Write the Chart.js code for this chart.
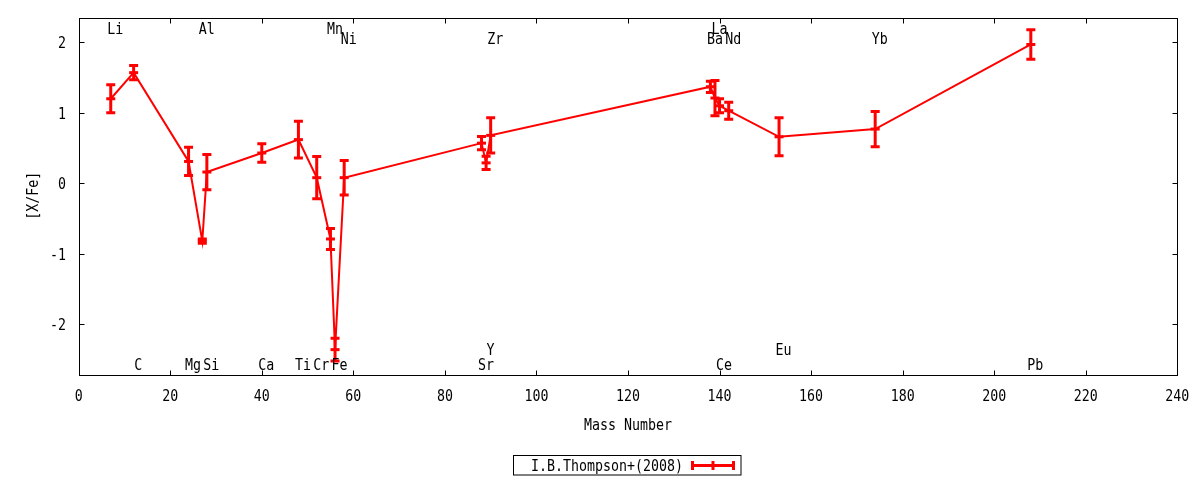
<!DOCTYPE html>
<html>
<head>
<meta charset="utf-8">
<script src="https://cdn.jsdelivr.net/npm/chart.js@4.4.1/dist/chart.umd.min.js"></script>
<style>
  html, body { margin: 0; padding: 0; background: #ffffff; }
  canvas { display: block; }
</style>
</head>
<body>
<canvas id="c" width="1200" height="480"></canvas>
<script>
// ---- data ----
const elements = ['Li','C','Mg','Al','Si','Ca','Ti','Cr','Mn','Fe','Ni','Sr','Y','Zr','Ba','La','Ce','Nd','Eu','Yb','Pb'];
const massNumber = [7,12,24,27,28,40,48,52,55,56,58,88,89,90,138,139,140,142,153,174,208];
const xFe = [1.20,1.57,0.31,-0.82,0.16,0.43,0.62,0.08,-0.79,-2.36,0.08,0.57,0.29,0.68,1.37,1.21,1.10,1.03,0.66,0.77,1.97];
const xFeErr = [0.20,0.10,0.20,0.03,0.25,0.13,0.26,0.30,0.15,0.16,0.245,0.095,0.095,0.25,0.08,0.25,0.10,0.12,0.27,0.25,0.21];
const labelY = [2.2,-2.56,-2.56,2.2,-2.56,-2.56,-2.56,-2.56,2.2,-2.56,2.06,-2.56,-2.35,2.06,2.06,2.2,-2.56,2.06,-2.35,2.06,-2.56];
const seriesName = 'I.B.Thompson+(2008)';
const xTitle = 'Mass Number';
const yTitle = '[X/Fe]';

// ---- style ----
const RED = '#ff0000';
const FONT = '16px "DejaVu Sans Mono"';
const SX = 0.83;          // horizontal condensing of text
const BASE = 5.8;         // baseline offset from visual centre

function txt(ctx, s, x, y, align) {
  ctx.save();
  ctx.translate(x, y + BASE);
  ctx.scale(SX, 1);
  ctx.font = FONT;
  ctx.fillStyle = '#000';
  ctx.textAlign = align || 'center';
  ctx.textBaseline = 'alphabetic';
  ctx.fillText(s, 0, 0);
  ctx.restore();
}

const decor = {
  id: 'decor',
  afterDatasetsDraw(chart) {
    const ctx = chart.ctx, xs = chart.scales.x, ys = chart.scales.y;
    ctx.save();
    ctx.strokeStyle = RED;
    ctx.lineWidth = 3;
    ctx.lineCap = 'butt';
    massNumber.forEach((m, i) => {
      const px = xs.getPixelForValue(m);
      const top = ys.getPixelForValue(xFe[i] + xFeErr[i]);
      const bot = ys.getPixelForValue(xFe[i] - xFeErr[i]);
      ctx.beginPath();
      ctx.moveTo(px, top); ctx.lineTo(px, bot);
      ctx.moveTo(px - 4.5, top); ctx.lineTo(px + 4.5, top);
      ctx.moveTo(px - 4.5, bot); ctx.lineTo(px + 4.5, bot);
      ctx.stroke();
    });
    ctx.restore();
  },
  afterDraw(chart) {
    const ctx = chart.ctx, xs = chart.scales.x, ys = chart.scales.y;
    const a = chart.chartArea;
    const L = Math.round(a.left) + 0.5, R = Math.round(a.right) + 0.5;
    const T = Math.round(a.top) + 0.5, B = Math.round(a.bottom) + 0.5;
    ctx.save();
    ctx.strokeStyle = '#000';
    ctx.lineWidth = 1;
    ctx.strokeRect(L, T, R - L, B - T);
    ctx.beginPath();
    xs.ticks.forEach(t => {
      const px = Math.round(xs.getPixelForValue(t.value)) + 0.5;
      ctx.moveTo(px, B); ctx.lineTo(px, B - 5);
      ctx.moveTo(px, T); ctx.lineTo(px, T + 5);
    });
    ys.ticks.forEach(t => {
      const py = Math.round(ys.getPixelForValue(t.value)) + 0.5;
      ctx.moveTo(L, py); ctx.lineTo(L + 5, py);
      ctx.moveTo(R, py); ctx.lineTo(R - 5, py);
    });
    ctx.stroke();
    ctx.restore();

    // tick labels
    xs.ticks.forEach(t => txt(ctx, String(t.value), xs.getPixelForValue(t.value), 395, 'center'));
    ys.ticks.forEach(t => txt(ctx, String(t.value), 66, ys.getPixelForValue(t.value), 'right'));

    // axis titles
    txt(ctx, xTitle, (a.left + a.right) / 2, 424, 'center');
    ctx.save();
    ctx.translate(31.7, 195.8);
    ctx.rotate(-Math.PI / 2);
    txt(ctx, yTitle, 0, 0, 'center');
    ctx.restore();

    // element labels
    elements.forEach((el, i) => {
      txt(ctx, el, xs.getPixelForValue(massNumber[i]) + 4.5, ys.getPixelForValue(labelY[i]), 'center');
    });

    // legend
    ctx.save();
    ctx.strokeStyle = '#000';
    ctx.lineWidth = 1;
    ctx.strokeRect(513.5, 455.5, 227.5, 19.5);
    ctx.restore();
    txt(ctx, seriesName, 683, 465.3, 'right');
    ctx.save();
    ctx.strokeStyle = RED;
    ctx.lineWidth = 3;
    ctx.beginPath();
    ctx.moveTo(691, 465.5); ctx.lineTo(735, 465.5);
    [692.5, 713, 733.5].forEach(x => { ctx.moveTo(x, 461); ctx.lineTo(x, 470); });
    ctx.stroke();
    ctx.restore();
  }
};

new Chart(document.getElementById('c'), {
  type: 'line',
  data: {
    datasets: [{
      label: seriesName,
      data: massNumber.map((m, i) => ({ x: m, y: xFe[i] })),
      borderColor: RED,
      backgroundColor: RED,
      borderWidth: 2,
      pointStyle: 'line',
      pointRadius: 4.5,
      pointBorderWidth: 3,
      pointBorderColor: RED,
      tension: 0,
      clip: false
    }]
  },
  options: {
    responsive: false,
    animation: false,
    devicePixelRatio: 1,
    events: [],
    layout: { padding: { left: 0, right: 22.7, top: 17.7, bottom: 0 } },
    plugins: { legend: { display: false }, tooltip: { enabled: false } },
    scales: {
      x: {
        type: 'linear', min: 0, max: 240,
        ticks: { stepSize: 20, display: false },
        grid: { display: false }, border: { display: false },
        afterFit(s) { s.height = 105; }
      },
      y: {
        type: 'linear', min: -2.72, max: 2.35,
        ticks: { stepSize: 1, includeBounds: false, display: false },
        grid: { display: false }, border: { display: false },
        afterFit(s) { s.width = 78.7; }
      }
    }
  },
  plugins: [decor]
});
</script>
</body>
</html>
